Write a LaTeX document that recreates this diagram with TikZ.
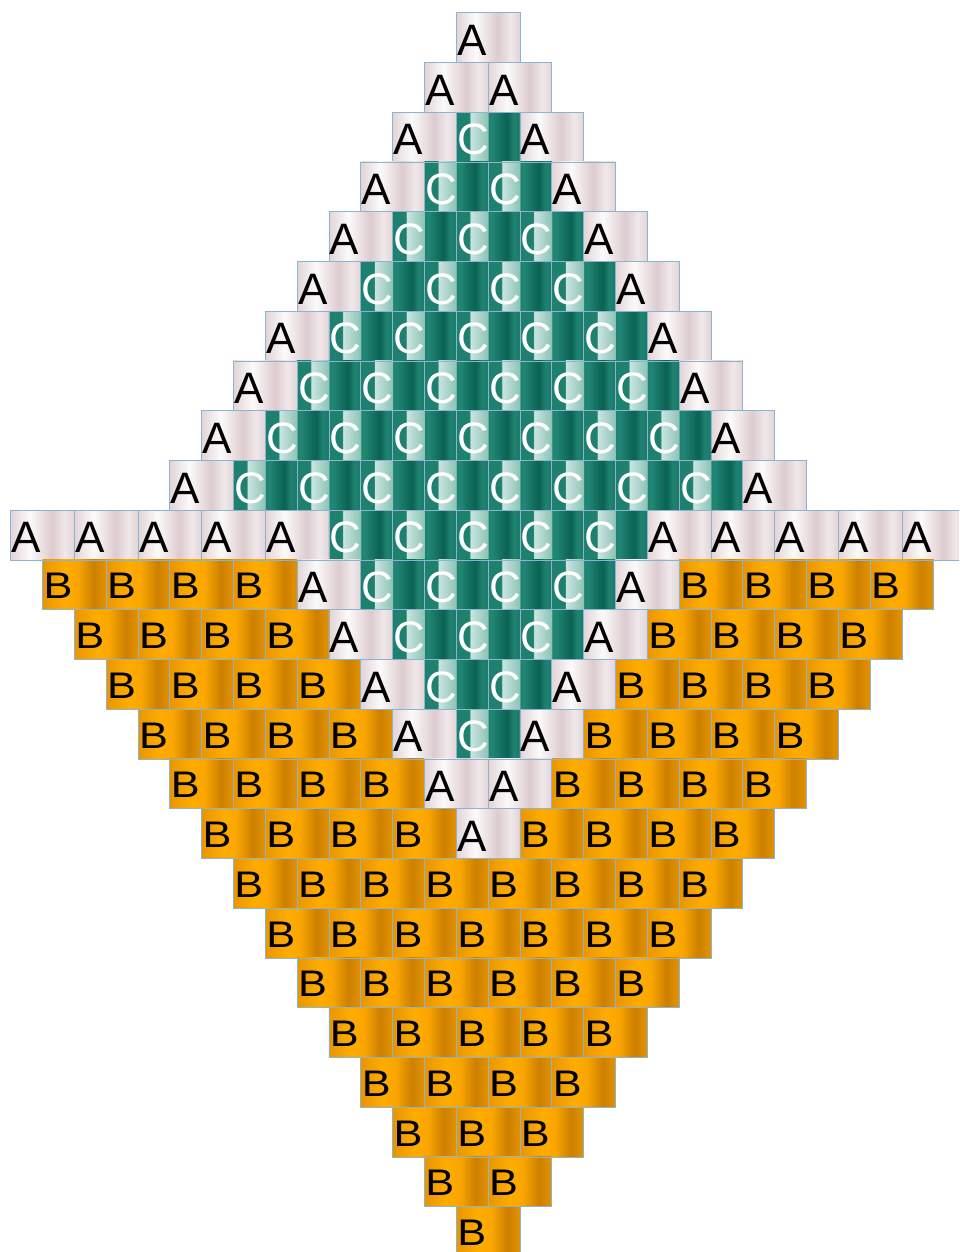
\documentclass[tikz,border=0pt]{standalone}
\usepackage{fontspec}
\setmainfont{Liberation Sans}
\usepackage{graphicx}
\definecolor{bordc}{RGB}{140,180,210}
% A cell colours
\definecolor{aE}{RGB}{226,212,215}
\definecolor{aW}{RGB}{252,250,250}
\definecolor{aD}{RGB}{221,203,207}
\definecolor{aM}{RGB}{240,232,234}
% C cell colours
\definecolor{cT}{RGB}{30,128,110}
\definecolor{cL1}{RGB}{205,230,224}
\definecolor{cL2}{RGB}{140,196,184}
\definecolor{cT2}{RGB}{35,135,118}
\definecolor{cK1}{RGB}{20,112,96}
\definecolor{cK}{RGB}{10,98,82}
\definecolor{cM}{RGB}{32,130,112}
\definecolor{cR}{RGB}{25,122,105}
% B cell colours
\definecolor{bL}{RGB}{232,150,0}
\definecolor{bH}{RGB}{255,172,0}
\definecolor{bH2}{RGB}{250,166,0}
\definecolor{bD}{RGB}{204,128,0}
\definecolor{bR}{RGB}{228,146,0}
\pgfdeclarehorizontalshading{shA}{100bp}{color(0bp)=(aE); color(25bp)=(aE); color(40bp)=(aW); color(57.5bp)=(aD); color(67.5bp)=(aM); color(75bp)=(aE); color(100bp)=(aE)}
\pgfdeclarehorizontalshading{shC}{100bp}{color(0bp)=(cT); color(25bp)=(cT); color(35.3bp)=(cT); color(35.6bp)=(cL1); color(49.8bp)=(cL2); color(50.1bp)=(cT); color(52.5bp)=(cT2); color(60bp)=(cK1); color(65bp)=(cK); color(70bp)=(cM); color(75bp)=(cR); color(100bp)=(cR)}
\pgfdeclarehorizontalshading{shB}{100bp}{color(0bp)=(bL); color(25bp)=(bL); color(42.5bp)=(bH); color(52.5bp)=(bH2); color(65bp)=(bD); color(75bp)=(bR); color(100bp)=(bR)}
\tikzset{
  cell/.style={rectangle, draw=bordc, line width=0.8pt, shade, minimum width=63.66pt, minimum height=49.75pt, inner xsep=1pt, inner ysep=0pt},
  cellA/.style={cell, shading=shA, text=black, font=\fontsize{44pt}{44pt}\selectfont, text height=35.5pt, text depth=0pt},
  cellC/.style={cell, shading=shC, text=white, font=\fontsize{44pt}{44pt}\selectfont, text height=35.5pt, text depth=0pt},
  cellB/.style={cell, shading=shB, text=black, font=\fontsize{37pt}{37pt}\selectfont, text height=27.9pt, text depth=0pt}
}
\begin{document}
\begin{tikzpicture}[x=1pt,y=-1pt]
\useasboundingbox (0,0) rectangle (959,1252);
\clip (0,0) rectangle (959,1252);
\foreach \r in {0,...,24}{
  \pgfmathtruncatemacro\nm{\r<10 ? \r : 24-\r}
  \pgfmathsetmacro\L{\r<10 ? 456.3-31.83*\r : 456.3-31.83*(24-\r)}
  \pgfmathsetmacro\cy{12.7+49.75*\r+24.875}
  \foreach \k in {0,...,\nm}{
    \pgfmathsetmacro\cx{\L+63.66*\k+31.83}
    \pgfmathtruncatemacro\tp{\r<10 ? ((\k==0 || \k==\r) ? 1 : 3) : (\r==10 ? ((\k<5 || \k>9) ? 1 : 3) : ((\k<4 || \k>20-\r) ? 2 : ((\k==4 || \k==20-\r) ? 1 : 3)))}
    \ifnum\tp=1 \node[cellA] (n\r-\k) at (\cx,\cy) {\makebox[61.66pt][l]{A}};\fi
    \ifnum\tp=2 \node[cellB] (n\r-\k) at (\cx,\cy) {\makebox[61.66pt][l]{\scalebox{1.17}[1]{B}}};\fi
    \ifnum\tp=3 \node[cellC] (n\r-\k) at (\cx,\cy) {\makebox[61.66pt][l]{C}};\fi
  }
}
\end{tikzpicture}
\end{document}
